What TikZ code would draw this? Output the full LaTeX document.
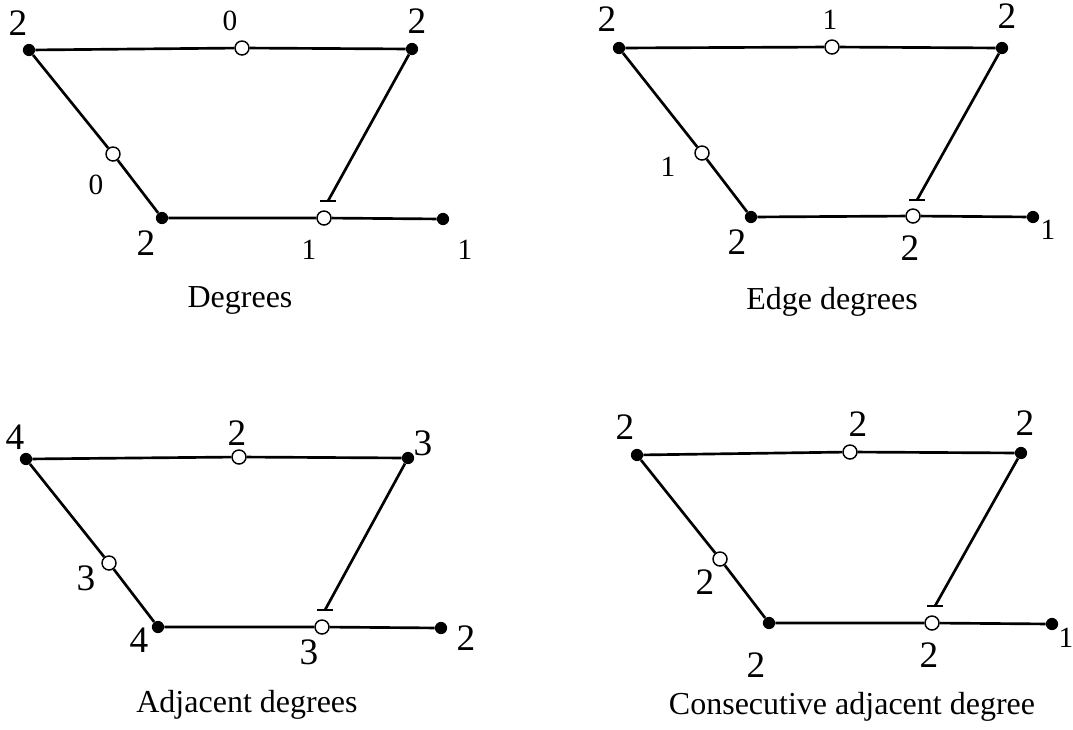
\documentclass[tikz,border=0pt]{standalone}
\usepackage{fontspec}
\setmainfont{Liberation Serif}
\begin{document}
\begin{tikzpicture}[x=0.75pt,y=-0.75pt,
  vtx/.style={circle,fill=black,inner sep=0pt,minimum size=9.2pt},
  mid/.style={circle,draw=black,fill=white,line width=1.1pt,inner sep=0pt,minimum size=10.5pt},
  big/.style={inner sep=0pt,font=\fontsize{28}{32}\selectfont},
  small/.style={inner sep=0pt,font=\fontsize{22}{26}\selectfont},
  captxt/.style={inner sep=0pt,font=\fontsize{24}{28}\selectfont},
  conn/.style={draw=black,line width=2pt}]
\useasboundingbox (0,0) rectangle (1073,729);

% ---------- Panel 1: Degrees ----------
\node[vtx] (a1) at (29,50) {};
\node[vtx] (b1) at (412,49) {};
\node[vtx] (c1) at (162,218) {};
\node[vtx] (d1) at (443,219) {};
\node[mid] (m1) at (242,48) {};
\node[mid] (l1) at (113,154) {};
\node[mid] (n1) at (324,218) {};
\coordinate (e1) at (328,201);
\draw[conn] (a1) -- (m1) -- (b1);
\draw[conn] (a1) -- (l1) -- (c1);
\draw[conn] (c1) -- (n1) -- (d1);
\draw[conn] (b1) -- (e1);
\draw[conn] ([xshift=-6]e1) -- ([xshift=6]e1);
\node[big] at (18,23) {2};
\node[small] at (230,21) {0};
\node[big] at (417,21) {2};
\node[small] at (96,185) {0};
\node[big] at (146,243) {2};
\node[small] at (309,250) {1};
\node[small] at (465,250) {1};
\node[captxt] (t1) at (240,300) {Degrees};

% ---------- Panel 2: Edge degrees ----------
\node[vtx] (a2) at (619,48) {};
\node[vtx] (b2) at (1002,48) {};
\node[vtx] (c2) at (751,217) {};
\node[vtx] (d2) at (1033,217) {};
\node[mid] (m2) at (832,47) {};
\node[mid] (l2) at (702,153) {};
\node[mid] (n2) at (913,216) {};
\coordinate (e2) at (917,200);
\draw[conn] (a2) -- (m2) -- (b2);
\draw[conn] (a2) -- (l2) -- (c2);
\draw[conn] (c2) -- (n2) -- (d2);
\draw[conn] (b2) -- (e2);
\draw[conn] ([xshift=-6]e2) -- ([xshift=6]e2);
\node[big] at (607,19) {2};
\node[small] at (830,20) {1};
\node[big] at (1007,16) {2};
\node[small] at (668,167) {1};
\node[big] at (737,242) {2};
\node[big] at (910,248) {2};
\node[small] at (1048,230) {1};
\node[captxt] (t2) at (832,302) {Edge degrees};

% ---------- Panel 3: Adjacent degrees ----------
\node[vtx] (a3) at (26,459) {};
\node[vtx] (b3) at (408,458) {};
\node[vtx] (c3) at (158,627) {};
\node[vtx] (d3) at (441,628) {};
\node[mid] (m3) at (239,457) {};
\node[mid] (l3) at (109,563) {};
\node[mid] (n3) at (322,627) {};
\coordinate (e3) at (325,610);
\draw[conn] (a3) -- (m3) -- (b3);
\draw[conn] (a3) -- (l3) -- (c3);
\draw[conn] (c3) -- (n3) -- (d3);
\draw[conn] (b3) -- (e3);
\draw[conn] ([xshift=-6]e3) -- ([xshift=6]e3);
\node[big] at (15,437) {4};
\node[big] at (237,433) {2};
\node[big] at (423,443) {3};
\node[big] at (86,578) {3};
\node[big] at (139,640) {4};
\node[big] at (309,652) {3};
\node[big] at (466,638) {2};
\node[captxt] (t3) at (247,705) {Adjacent degrees};

% ---------- Panel 4: Consecutive adjacent degree ----------
\node[vtx] (a4) at (637,455) {};
\node[vtx] (b4) at (1021,453) {};
\node[vtx] (c4) at (769,623) {};
\node[vtx] (d4) at (1052,624) {};
\node[mid] (m4) at (850,452) {};
\node[mid] (l4) at (720,559) {};
\node[mid] (n4) at (932,623) {};
\coordinate (e4) at (935,606);
\draw[conn] (a4) -- (m4) -- (b4);
\draw[conn] (a4) -- (l4) -- (c4);
\draw[conn] (c4) -- (n4) -- (d4);
\draw[conn] (b4) -- (e4);
\draw[conn] ([xshift=-6]e4) -- ([xshift=6]e4);
\node[big] at (625,427) {2};
\node[big] at (858,424) {2};
\node[big] at (1025,423) {2};
\node[big] at (705,582) {2};
\node[big] at (756,665) {2};
\node[big] at (929,655) {2};
\node[small] at (1066,638) {1};
\node[captxt] (t4) at (852,707) {Consecutive adjacent degree};
\end{tikzpicture}
\end{document}
